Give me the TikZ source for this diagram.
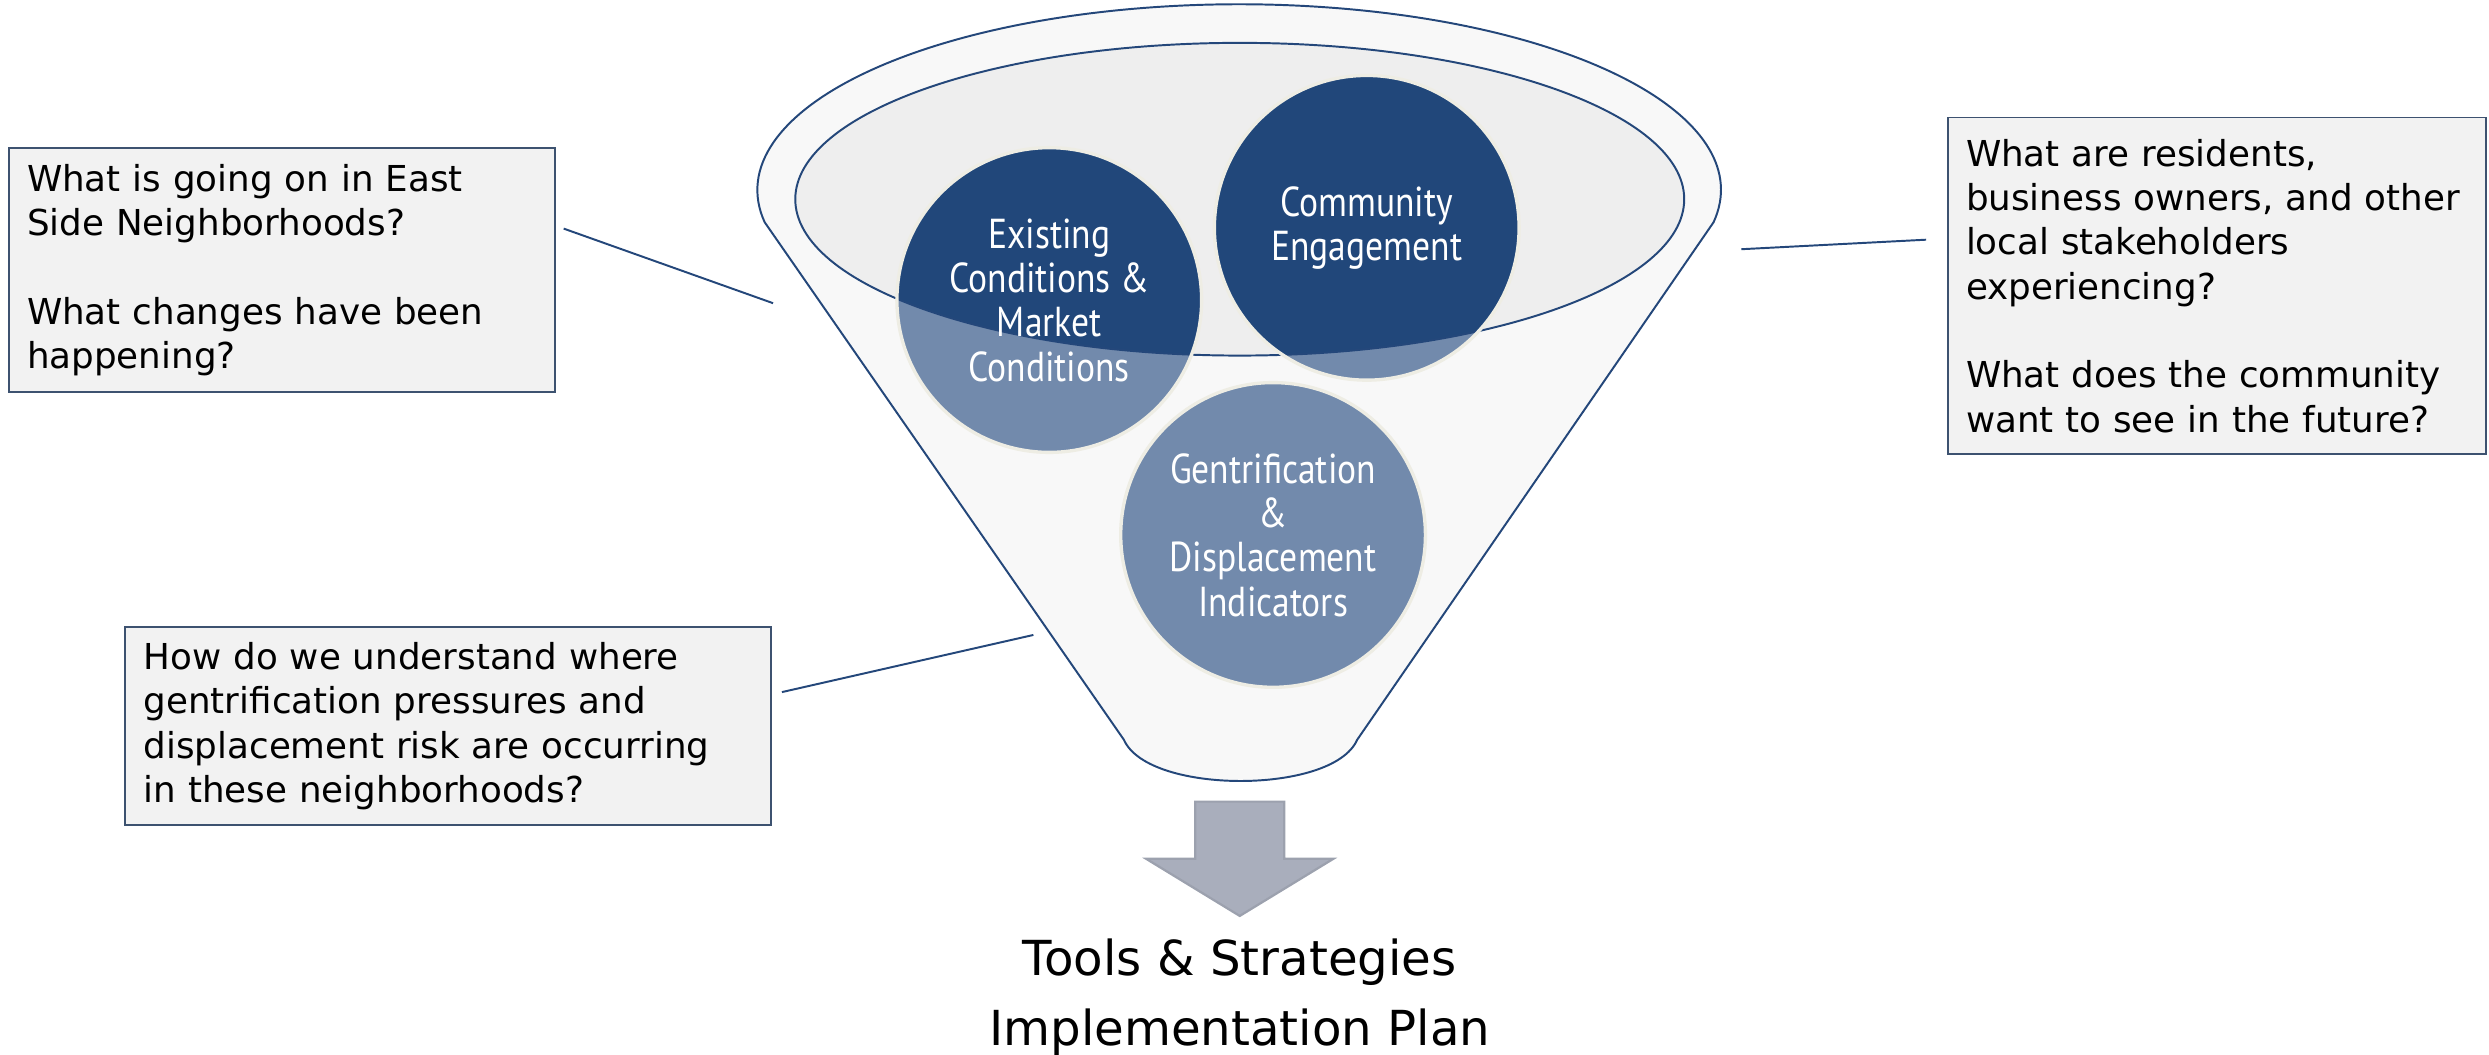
\documentclass[tikz,border=0pt]{standalone}
\usepackage{fontspec}
\setmainfont{DejaVu Sans}
\newfontfamily\circfont[FakeStretch=0.85]{PT Sans}
\usepackage{tikz}
\definecolor{rimblue}{HTML}{24477A}
\definecolor{rimfill}{HTML}{F8F8F8}
\definecolor{ovalfill}{HTML}{EEEEEE}
\definecolor{darkcirc}{HTML}{21477A}
\definecolor{lightcirc}{HTML}{728AAC}
\definecolor{circedge}{HTML}{EEEDE4}
\definecolor{boxfill}{HTML}{F2F2F2}
\definecolor{boxedge}{HTML}{3D5270}
\definecolor{arrowfill}{HTML}{A9AEBC}
\definecolor{arrowedge}{HTML}{9CA1AE}

\begin{document}
\begin{tikzpicture}[x=0.02cm,y=0.02cm]
\tikzstyle{question}=[draw=boxedge,fill=boxfill,line width=0.7pt,inner xsep=0.23cm,align=left,font=\fontsize{12.8}{15.9}\selectfont]
\tikzstyle{topic}=[circle,draw=circedge,line width=1.2pt,minimum size=3.84cm,inner sep=0pt,text=white,align=center,font=\circfont\fontsize{15}{15.9}\selectfont]
\tikzstyle{leader}=[draw=rimblue,line width=0.7pt]
\useasboundingbox (0,0) rectangle (1568,664);

% funnel
\draw[rimblue,fill=rimfill,line width=0.7pt] (1079.5,524) arc[start angle=-10,end angle=190,x radius=303.5,y radius=117]
  -- (708,198) .. controls (716,180) and (750,172) .. (781.5,172) .. controls (813,172) and (847,180) .. (855,198) -- cycle;
\fill[ovalfill] (781,538.5) ellipse [x radius=280,y radius=98.5];

\coordinate (cexist) at (661,475);
\coordinate (ccomm) at (861,520.5);
\coordinate (cgent) at (802,327);
\foreach \c in {cexist,ccomm,cgent}
  \fill[lightcirc] (\c) circle [radius=96];
\begin{scope}
\clip (781,538.5) ellipse [x radius=280,y radius=98.5];
\foreach \c in {cexist,ccomm}
  \fill[darkcirc] (\c) circle [radius=96];
\end{scope}
\draw[rimblue,line width=0.7pt] (781,538.5) ellipse [x radius=280,y radius=98.5];

\node[topic] (exist) at (cexist) {Existing\\Conditions \&\\Market\\Conditions};
\node[topic] (comm) at (ccomm) {Community\\Engagement};
\node[topic] (gent) at (cgent) {Gentrification\\\&\\Displacement\\Indicators};

% arrow and result
\draw[arrowedge,fill=arrowfill,line width=0.8pt] (753,159) -- (809,159) -- (809,123) -- (840,123) -- (781,87) -- (722,123) -- (753,123) -- cycle;
\node[font=\fontsize{17.3}{25}\selectfont,align=center] (plan) at (781,36) {Tools \& Strategies\\Implementation Plan};

% questions
\node[question,text width=6.42cm,minimum height=3.08cm] (going) at (177.5,494) {What is going on in East\\Side Neighborhoods?\\[15.9pt]What changes have been\\happening?};
\node[question,text width=6.32cm,minimum height=4.24cm] (resid) at (1396.5,484) {What are residents,\\business owners, and other\\local stakeholders\\experiencing?\\[15.9pt]What does the community\\want to see in the future?\\[-6pt]};
\node[question,text width=7.68cm,minimum height=2.5cm] (where) at (282.5,206.5) {How do we understand where\\gentrification pressures and\\displacement risk are occurring\\in these neighborhoods?};

\coordinate (f1) at (487,473);
\coordinate (f2) at (1097,507);
\coordinate (f3) at (651,264);
\draw[leader] ([shift={(5,26)}]going.east) -- (f1);
\draw[leader] ([shift={(-13,29)}]resid.west) -- (f2);
\draw[leader] ([shift={(6,21.5)}]where.east) -- (f3);
\end{tikzpicture}
\end{document}
